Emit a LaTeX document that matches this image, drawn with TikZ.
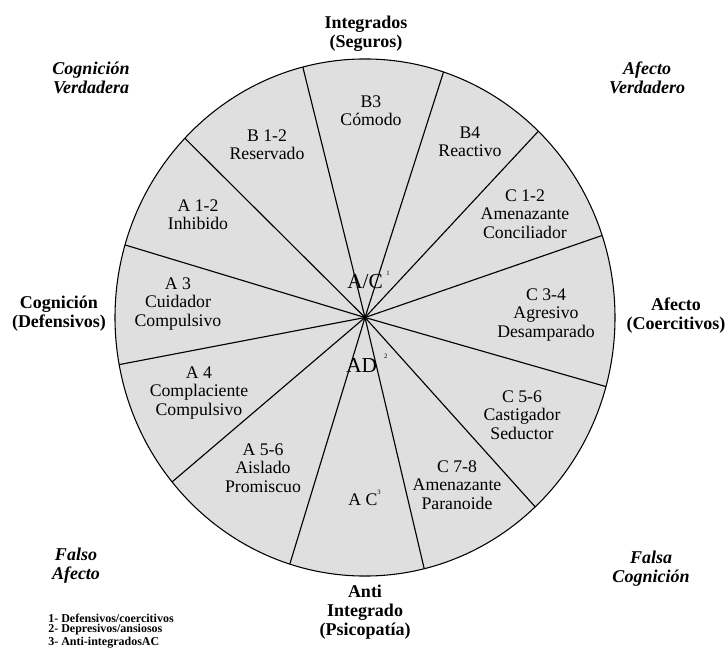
\documentclass[tikz,border=0pt]{standalone}
\usepackage{fontspec}
\setmainfont{Liberation Serif}
\begin{document}
\begin{tikzpicture}[x=0.75pt,y=-0.75pt,
  rim/.style={draw=black,line width=0.8pt,fill=gray!25},
  spoke/.style={draw=black,line width=0.85pt},
  sector/.style={align=center,inner sep=0pt,font=\fontsize{13.3}{13.7}\selectfont},
  core/.style={inner sep=0pt,font=\fontsize{16}{16}\selectfont},
  pole/.style={align=center,inner sep=0pt,font=\bfseries\fontsize{13.5}{14.3}\selectfont},
  diag/.style={align=center,inner sep=0pt,font=\bfseries\itshape\fontsize{13.5}{14}\selectfont},
  keytext/.style={align=left,inner sep=0pt,font=\bfseries\fontsize{9}{7.6}\selectfont}]
\newcommand{\supnum}[1]{\raisebox{1.4ex}{\fontsize{5}{5}\selectfont #1}}
\useasboundingbox (0,0) rectangle (725,649);

% circumplex disc
\coordinate (hub) at (365,317.5);
\draw[rim] (hub) ellipse [x radius=187.5pt, y radius=193.9pt];

% rim points of the twelve dividing spokes
\foreach \t [count=\i] in {18.5,46.1,71.7,104.4,136.1,163.7,190.5,219.5,252.5,283.7,312.9,344.5}
  \coordinate (e\i) at ({365+250*cos(\t)},{317.5-258.5*sin(\t)});
\foreach \i in {1,...,12}
  \draw[spoke] (hub) -- (e\i);

% sector labels
\node[sector] (b3)  at (371,111) {B3\\Cómodo};
\node[sector] (b12) at (267,145) {B 1-2\\Reservado};
\node[sector] (b4)  at (470,142) {B4\\Reactivo};
\node[sector] (a12) at (198,215) {A 1-2\\Inhibido};
\node[sector] (c12) at (525,214) {C 1-2\\Amenazante\\Conciliador};
\node[sector] (a3)  at (178,304) {A 3\\Cuidador\\Compulsivo};
\node[sector] (c34) at (546,315) {C 3-4\\Agresivo\\Desamparado};
\node[sector] (a4)  at (199,393) {A 4\\Complaciente\\Compulsivo};
\node[sector] (c56) at (522,415) {C 5-6\\Castigador\\Seductor};
\node[sector] (a56) at (263,468) {A 5-6\\Aislado\\Promiscuo};
\node[sector] (c78) at (457,485) {C 7-8\\Amenazante\\Paranoide};
\node[sector,anchor=west] (ac) at (348,498) {A C\supnum{3}};

% central labels
\node[core,anchor=west] (acone) at (347,280) {A/C\,\supnum{1}};
\node[core,anchor=west] (adtwo) at (346,363) {AD\,\,\supnum{2}};

% poles
\node[pole] (integ)  at (366,33.5) {Integrados\\(Seguros)};
\node[pole] (cogdef) at (59,314) {Cognición\\(Defensivos)};
\node[pole] (afcoe)  at (676,316) {Afecto\\(Coercitivos)};
\node[pole] (anti)   at (365,612) {Anti\\Integrado\\(Psicopatía)};

% diagonals
\node[diag] (cogver) at (91,78)  {Cognición\\Verdadera};
\node[diag] (afver)  at (647,78) {Afecto\\Verdadero};
\node[diag] (falaf)  at (76,566) {Falso\\Afecto};
\node[diag] (falcog) at (651,569) {Falsa\\Cognición};

% key
\node[keytext,anchor=west] (key) at (48,631)
  {1- Defensivos/coercitivos\\2- Depresivos/ansiosos\\3- Anti-integradosAC};
\end{tikzpicture}
\end{document}
